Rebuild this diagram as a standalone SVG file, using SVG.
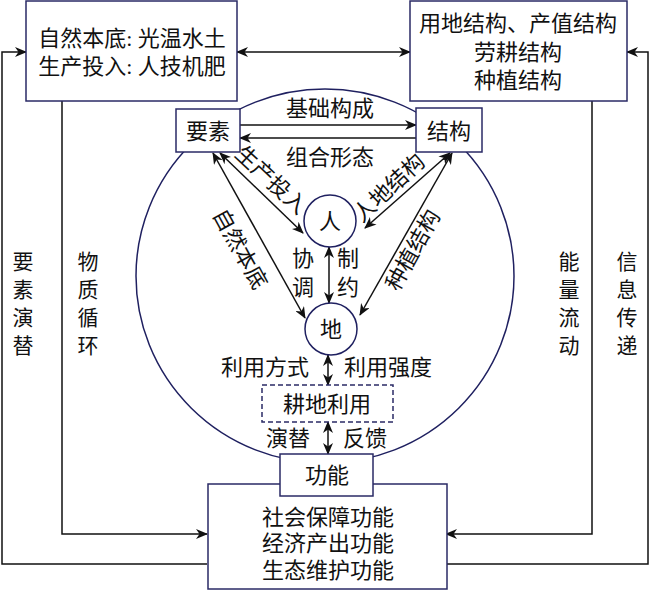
<svg xmlns="http://www.w3.org/2000/svg" width="650" height="591" viewBox="0 0 650 591">
<style>
text{font-family:"Liberation Serif","Noto Sans CJK SC",serif;font-size:22px;fill:#111;text-anchor:middle;dominant-baseline:central}
.box{fill:#fff;stroke:#2a2a66;stroke-width:1.5}
.dash{fill:#fff;stroke:#2a2a66;stroke-width:1.5;stroke-dasharray:5 3}
.ring{fill:none;stroke:#1f2060;stroke-width:1.5}
.c{fill:#fff;stroke:#1f2060;stroke-width:1.5}
.ln{fill:none;stroke:#111;stroke-width:1.5}
.a2{marker-start:url(#ah);marker-end:url(#ah)}
.a1{marker-end:url(#ah)}
.v{font-size:21px}
</style>
<defs>
<marker id="ah" viewBox="0 0 12 10" refX="11" refY="5" markerWidth="12" markerHeight="10" markerUnits="userSpaceOnUse" orient="auto-start-reverse">
<path d="M0,0 L12,5 L0,10 L3.5,5 z" fill="#111"/>
</marker>
</defs>
<rect width="650" height="591" fill="#fff"/>
<ellipse class="ring" cx="325" cy="276" rx="189" ry="187"/>
<g id="connectors">
<line class="ln a2" x1="237" y1="52" x2="410" y2="52"/>
<path class="ln a1" d="M207,564 H2 V52 H26"/>
<path class="ln a1" d="M446,564 H648 V52 H627"/>
<path class="ln a1" d="M62,101 V534 H207"/>
<path class="ln a1" d="M592,101 V534 H446"/>
<line class="ln a1" x1="240" y1="125" x2="416" y2="125"/>
<line class="ln a1" x1="416" y1="138" x2="240" y2="138"/>
<line class="ln a2" x1="220" y1="153" x2="303" y2="233"/>
<line class="ln a2" x1="213" y1="153" x2="305" y2="318"/>
<line class="ln a2" x1="450" y1="153" x2="365" y2="228"/>
<line class="ln a2" x1="452" y1="153" x2="360" y2="315"/>
<line class="ln a2" x1="329" y1="247" x2="329" y2="303"/>
<line class="ln a2" x1="328" y1="355" x2="328" y2="385"/>
<line class="ln a2" x1="328" y1="422" x2="328" y2="454"/>
<text x="330" y="108">基础构成</text>
<text x="330" y="157">组合形态</text>
<text x="271" y="180" transform="rotate(43 271 180)">生产投入</text>
<text x="389" y="188" transform="rotate(-43 389 188)">人地结构</text>
<text x="240" y="249" transform="rotate(61 240 249)">自然本底</text>
<text x="413" y="250" transform="rotate(-61 413 250)">种植结构</text>
<text x="303" y="258">协</text>
<text x="303" y="287">调</text>
<text x="348" y="258">制</text>
<text x="348" y="287">约</text>
<text x="265" y="367">利用方式</text>
<text x="388" y="367">利用强度</text>
<text x="288" y="438">演替</text>
<text x="365" y="438">反馈</text>
<text class="v" x="23"><tspan x="23" y="262">要</tspan><tspan x="23" y="290">素</tspan><tspan x="23" y="318">演</tspan><tspan x="23" y="346">替</tspan></text>
<text class="v" x="88"><tspan x="88" y="262">物</tspan><tspan x="88" y="290">质</tspan><tspan x="88" y="318">循</tspan><tspan x="88" y="346">环</tspan></text>
<text class="v" x="569"><tspan x="569" y="262">能</tspan><tspan x="569" y="290">量</tspan><tspan x="569" y="318">流</tspan><tspan x="569" y="346">动</tspan></text>
<text class="v" x="627"><tspan x="627" y="262">信</tspan><tspan x="627" y="290">息</tspan><tspan x="627" y="318">传</tspan><tspan x="627" y="346">递</tspan></text>
</g>
<g id="n-left">
<rect class="box" x="26" y="1" width="211" height="100"/>
<text x="132" y="38">自然本底: 光温水土</text>
<text x="132" y="66">生产投入: 人技机肥</text>
</g>
<g id="n-right">
<rect class="box" x="410" y="1" width="217" height="100"/>
<text x="518" y="23">用地结构、产值结构</text>
<text x="518" y="52">劳耕结构</text>
<text x="518" y="80">种植结构</text>
</g>
<g id="n-yaosu">
<rect class="box" x="176" y="109" width="64" height="43"/>
<text x="208" y="131">要素</text>
</g>
<g id="n-jiegou">
<rect class="box" x="416" y="108" width="66" height="44"/>
<text x="449" y="131">结构</text>
</g>
<g id="n-ren">
<circle class="c" cx="330" cy="221" r="26"/>
<text x="330" y="221">人</text>
</g>
<g id="n-di">
<circle class="c" cx="331" cy="329" r="26"/>
<text x="331" y="329">地</text>
</g>
<g id="n-gengdi">
<rect class="dash" x="262" y="385" width="131" height="37"/>
<text x="327" y="404">耕地利用</text>
</g>
<g id="n-bottom">
<rect class="box" x="208" y="484" width="239" height="105"/>
<text x="328" y="517">社会保障功能</text>
<text x="328" y="543">经济产出功能</text>
<text x="328" y="570">生态维护功能</text>
</g>
<g id="n-gongneng">
<rect class="box" x="280" y="454" width="93" height="42"/>
<text x="327" y="475">功能</text>
</g>
</svg>
